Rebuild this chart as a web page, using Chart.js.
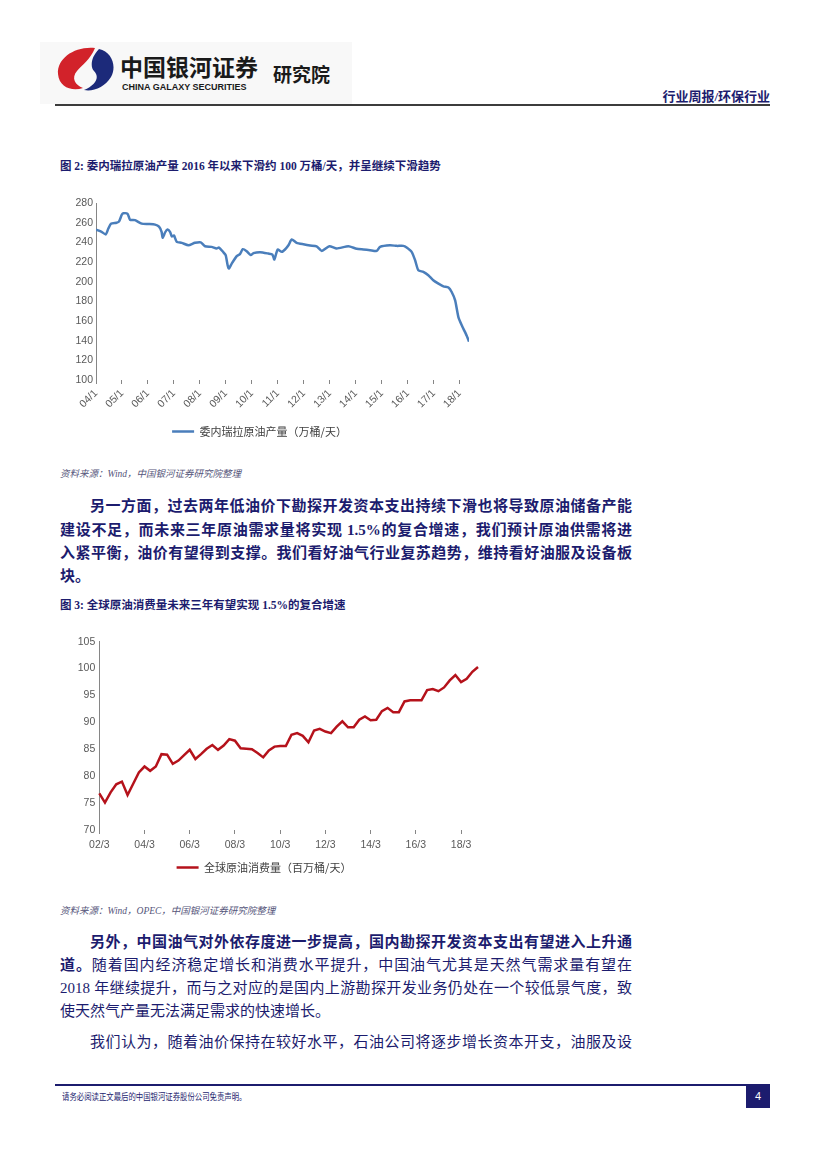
<!DOCTYPE html>
<html>
<head>
<meta charset="utf-8">
<script src="https://cdn.jsdelivr.net/npm/chart.js@4.4.0/dist/chart.umd.min.js"></script>
<style>
body{margin:0;width:827px;height:1169px;position:relative;background:#fff;overflow:hidden;
  font-family:"Liberation Serif","Noto Sans CJK SC",serif;color:#1c1c6e}
div,canvas{position:absolute}
.ln{left:60px;width:572px;height:23px;line-height:23px;font-size:15px;text-align:justify;text-align-last:justify}
.b{font-weight:bold}
.ind{left:90px;width:542px}
.cap{left:60px;font-size:11.5px;font-weight:bold;white-space:nowrap}
.src{left:60px;font-size:9.5px;font-style:italic;color:#55557a;white-space:nowrap}
</style>
</head>
<body>

<!-- header -->
<div style="left:40px;top:42px;width:312px;height:62px;background:#f8f8f8"></div>
<svg style="position:absolute;left:55px;top:45px" width="60" height="48" viewBox="0 0 60 48">
  <path d="M40 3 C20 1 2 13 3 29 C4 42 17 47 28 43 C20 40 16 33 22 26 C27 20 35 15 40 3 Z" fill="#d2222a"/>
  <path d="M44 4 C57 7 62 21 56 32 C50 42 38 47 29 45 C41 40 45 32 39 26 C35 22 36 12 44 4 Z" fill="#1c2a7a"/>
</svg>
<div style="left:120px;top:49px;font-family:'Noto Sans CJK SC';font-weight:bold;font-size:23px;color:#1a1a1a;white-space:nowrap">中国银河证券</div>
<div style="left:122px;top:82px;font-family:'Liberation Sans';font-weight:bold;font-size:9px;color:#1a1a1a;white-space:nowrap">CHINA GALAXY SECURITIES</div>
<div style="left:273px;top:60px;font-family:'Noto Sans CJK SC';font-weight:bold;font-size:19px;color:#1a1a1a;white-space:nowrap">研究院</div>
<div style="right:57px;top:86px;font-size:13px;font-weight:bold;white-space:nowrap">行业周报/环保行业</div>
<div style="left:55px;top:104px;width:715px;height:2px;background:#3c3c3c"></div>

<!-- figure 2 -->
<div class="cap" style="top:157px">图 2: 委内瑞拉原油产量 2016 年以来下滑约 100 万桶/天，并呈继续下滑趋势</div>
<canvas id="c1" width="450" height="260" style="left:50px;top:190px"></canvas>
<div class="src" style="top:466px">资料来源：Wind，中国银河证券研究院整理</div>

<div class="ln b ind" style="top:495px">另一方面，过去两年低油价下勘探开发资本支出持续下滑也将导致原油储备产能</div>
<div class="ln b" style="top:519px">建设不足，而未来三年原油需求量将实现 1.5%的复合增速，我们预计原油供需将进</div>
<div class="ln b" style="top:542px">入紧平衡，油价有望得到支撑。我们看好油气行业复苏趋势，维持看好油服及设备板</div>
<div class="ln b" style="top:565px;text-align-last:left">块。</div>

<!-- figure 3 -->
<div class="cap" style="top:596px">图 3: 全球原油消费量未来三年有望实现 1.5%的复合增速</div>
<canvas id="c2" width="450" height="260" style="left:50px;top:625px"></canvas>
<div class="src" style="top:903px">资料来源：Wind，OPEC，中国银河证券研究院整理</div>

<div class="ln b ind" style="top:931px">另外，中国油气对外依存度进一步提高，国内勘探开发资本支出有望进入上升通</div>
<div class="ln" style="top:954px"><span class="b">道。</span>随着国内经济稳定增长和消费水平提升，中国油气尤其是天然气需求量有望在</div>
<div class="ln" style="top:977px">2018 年继续提升，而与之对应的是国内上游勘探开发业务仍处在一个较低景气度，致</div>
<div class="ln" style="top:1000px;text-align-last:left">使天然气产量无法满足需求的快速增长。</div>
<div class="ln ind" style="top:1031px">我们认为，随着油价保持在较好水平，石油公司将逐步增长资本开支，油服及设</div>

<!-- footer -->
<div style="left:55px;top:1084px;width:715px;height:2px;background:#1c1c6e"></div>
<div style="left:62px;top:1090px;font-size:9px;white-space:nowrap;transform:scaleX(0.82);transform-origin:left top">请务必阅读正文最后的中国银河证券股份公司免责声明。</div>
<div style="left:746px;top:1085px;width:24px;height:23px;background:#1c1c6e;color:#fff;font-family:'Liberation Sans';font-size:11px;line-height:23px;text-align:center">4</div>

<script>
// 图2 委内瑞拉原油产量, x = 自2004/1起的月数
var prodMonths = [0, 2.6, 4.5, 5.7, 6.9, 9.5, 10.6, 11.9, 12.6, 14.6, 15.7, 18.0, 21.1, 24.2, 27.3, 29.1, 30.3, 30.8, 31.9, 33.0,
  34.2, 35.0, 36.0, 37.3, 39.6, 42.7, 45.7, 48.4, 50.4, 53.4, 55.7, 56.8, 58.8, 59.9, 60.8, 61.4, 62.7, 65.0, 66.5, 67.8,
  69.6, 71.5, 72.7, 75.8, 79.6, 81.5, 82.4, 83.9, 85.8, 87.3, 88.9, 90.4, 92.7, 95.8, 98.9, 101.9, 104.3, 107.8, 111.2, 116.6,
  120.4, 123.5, 126.6, 129.7, 131.2, 135.8, 138.9, 142.0, 143.5, 145.8, 147.4, 148.9, 151.2, 153.5, 155.8, 158.2, 160.5, 162.8, 164.3, 165.9,
  167.4, 169.0, 171.2, 172.3];
var prodValues = [253, 250.7, 248, 254, 259, 260, 261, 268, 269.5, 269, 263, 262.6, 259, 258.6, 258, 256, 250.7, 244.6, 250, 253,
  250.7, 246, 247, 240.5, 239.5, 237, 239.5, 240, 236, 235.4, 233.7, 234.7, 230, 227, 216.7, 213.3, 218.4, 226, 228, 233,
  231, 227, 229, 230, 228.6, 227.6, 222.5, 232.7, 230.3, 232.7, 237, 242.9, 239.5, 238, 236.8, 236, 231.3, 236, 233.7, 236,
  233.4, 232.7, 232, 231.3, 235.4, 237, 236.4, 236.4, 234.7, 230.3, 221.8, 211.6, 209.9, 206.5, 201.4, 198, 195.3, 194, 189.5, 181,
  164, 155.4, 145.3, 139];
var prodTicks = ["04/1","05/1","06/1","07/1","08/1","09/1","10/1","11/1","12/1","13/1","14/1","15/1","16/1","17/1","18/1"];

// 图3 全球原油消费量 (季度, 2002Q1-2018Q4)
var consYears = [];
for (var yy = 2; yy <= 18; yy++) consYears.push(yy);
var consMonths = [3, 6, 9, 12];
var consValues = [76.8, 75.1, 77.0, 78.5, 79.0, 76.5, 78.6, 80.7, 81.8, 81.0, 81.8, 84.1, 84.0, 82.3, 82.9, 83.9,
  84.9, 83.2, 84.1, 85.1, 85.8, 84.9, 85.7, 86.9, 86.6, 85.2, 85.1, 85.0, 84.3, 83.5, 84.8, 85.5,
  85.6, 85.6, 87.7, 88.0, 87.5, 86.3, 88.5, 88.8, 88.3, 88.0, 89.2, 90.2, 89.1, 89.1, 90.5, 91.1,
  90.4, 90.5, 92.1, 92.7, 91.9, 91.9, 93.9, 94.1, 94.1, 94.1, 96.0, 96.2, 95.8, 96.5, 97.8, 98.8,
  97.5, 98.1, 99.4, 100.3];
var consLabels = [];
consYears.forEach(function (y) {
  consMonths.forEach(function (m) { consLabels.push((y < 10 ? "0" + y : "" + y) + "/" + m); });
});

var tickFont = {family: "Liberation Sans", size: 10.5};
var tickColor = "#595959";
var legendFont = {family: "Noto Sans CJK SC", size: 11};

new Chart(document.getElementById("c1"), {
  type: "line",
  data: {
    datasets: [{
      label: "委内瑞拉原油产量（万桶/天）",
      data: prodMonths.map(function (m, i) { return {x: m, y: prodValues[i]}; }),
      borderColor: "#4a7ebb",
      backgroundColor: "#4a7ebb",
      borderWidth: 2.5,
      pointRadius: 0,
      tension: 0.2
    }]
  },
  options: {
    responsive: false,
    animation: false,
    layout: {padding: {top: 13, right: 31, bottom: 3, left: 0}},
    plugins: {
      legend: {
        position: "bottom",
        labels: {usePointStyle: true, pointStyle: "line", pointStyleWidth: 22, font: legendFont, color: "#404040", padding: 6}
      },
      tooltip: {enabled: false}
    },
    scales: {
      x: {
        type: "linear", min: 0, max: 172.3,
        afterFit: function (s) { s.height = 40; },
        ticks: {
          stepSize: 12, includeBounds: false, autoSkip: false, minRotation: 45, maxRotation: 45,
          font: tickFont, color: tickColor,
          callback: function (v) { return prodTicks[Math.round(v / 12)]; }
        },
        grid: {drawOnChartArea: false, tickLength: 4, color: "#868686"},
        border: {display: false}
      },
      y: {
        min: 100, max: 280,
        afterFit: function (s) { s.width = 46; },
        ticks: {stepSize: 20, padding: 3, font: tickFont, color: tickColor},
        grid: {display: false, drawTicks: false},
        border: {color: "#868686"}
      }
    }
  }
});

new Chart(document.getElementById("c2"), {
  type: "line",
  data: {
    labels: consLabels,
    datasets: [{
      label: "全球原油消费量（百万桶/天）",
      data: consValues,
      borderColor: "#b5121b",
      backgroundColor: "#b5121b",
      borderWidth: 2.5,
      pointRadius: 0,
      tension: 0
    }]
  },
  options: {
    responsive: false,
    animation: false,
    layout: {padding: {top: 16.7, right: 22, bottom: 2, left: 0}},
    plugins: {
      legend: {
        position: "bottom",
        labels: {usePointStyle: true, pointStyle: "line", pointStyleWidth: 22, font: legendFont, color: "#404040", padding: 6}
      },
      tooltip: {enabled: false}
    },
    scales: {
      x: {
        afterFit: function (s) { s.height = 26; },
        ticks: {
          autoSkip: false, maxRotation: 0, padding: 5, font: tickFont, color: tickColor,
          callback: function (v, i) { return i % 8 === 0 ? consLabels[i] : ""; }
        },
        grid: {
          drawOnChartArea: false, tickLength: 4,
          color: function (c) { return c.index % 8 === 0 ? "#868686" : "rgba(0,0,0,0)"; }
        },
        border: {display: false}
      },
      y: {
        min: 70, max: 105,
        afterFit: function (s) { s.width = 49.3; },
        ticks: {stepSize: 5, padding: 4, font: tickFont, color: tickColor},
        grid: {display: false, drawTicks: false},
        border: {color: "#868686"}
      }
    }
  }
});
</script>
</body>
</html>
